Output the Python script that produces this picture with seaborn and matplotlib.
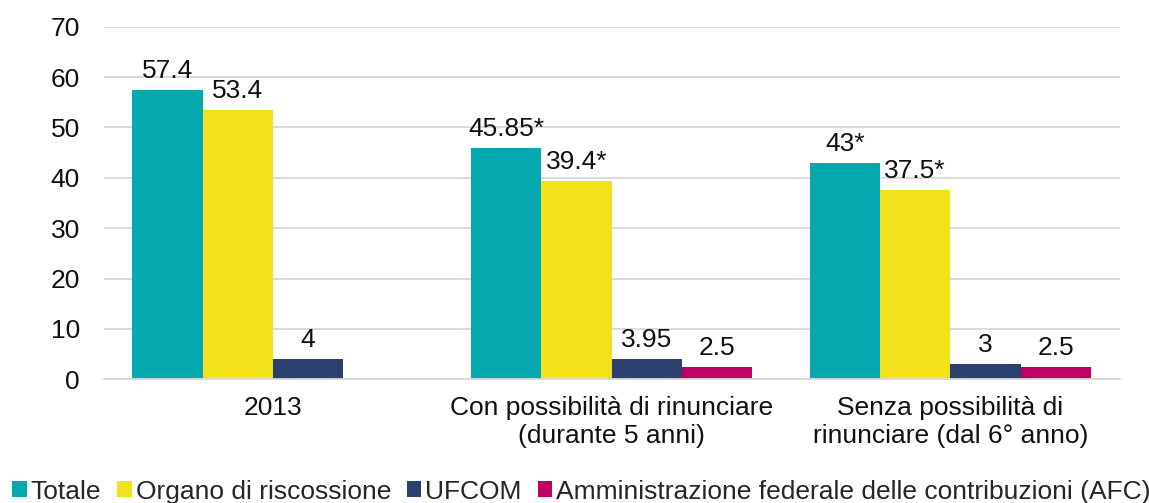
import numpy as np
import pandas as pd
import seaborn as sns
import matplotlib.pyplot as plt
from matplotlib.patches import Patch

categories = [
    "2013",
    "Con possibilità di rinunciare\n(durante 5 anni)",
    "Senza possibilità di\nrinunciare (dal 6° anno)",
]
series = [
    "Totale",
    "Organo di riscossione",
    "UFCOM",
    "Amministrazione federale delle contribuzioni (AFC)",
]
totale = [57.4, 45.85, 43.0]
organo = [53.4, 39.4, 37.5]
ufcom = [4.0, 3.95, 3.0]
afc = [np.nan, 2.5, 2.5]
labels = [
    ["57.4", "45.85*", "43*"],
    ["53.4", "39.4*", "37.5*"],
    ["4", "3.95", "3"],
    ["", "2.5", "2.5"],
]
colors = ["#06A8B0", "#F2E21A", "#2B406E", "#BE0064"]

rows = []
for name, vals in zip(series, [totale, organo, ufcom, afc]):
    for cat, v in zip(categories, vals):
        rows.append({"Categoria": cat, "Serie": name, "Valore": v})
df = pd.DataFrame(rows)

sns.set_style("white")
plt.rcParams["font.family"] = ["Liberation Sans", "DejaVu Sans"]

fig = plt.figure(figsize=(11.49, 5.03), dpi=100)
ax = fig.add_axes([0.0901, 0.2459, 0.8843, 0.701])

sns.barplot(
    data=df,
    x="Categoria",
    y="Valore",
    hue="Serie",
    order=categories,
    hue_order=series,
    palette=colors,
    width=0.83,
    saturation=1,
    linewidth=0,
    legend=False,
    ax=ax,
)

# etichette sopra le barre: si abbina ogni barra alla categoria piu vicina
for cont, labs in zip(ax.containers, labels):
    for bar in cont:
        if bar is None:
            continue
        xc = bar.get_x() + bar.get_width() / 2
        lab = labs[int(round(xc))]
        if not lab:
            continue
        ax.annotate(
            lab,
            (xc, bar.get_height()),
            xytext=(0, 5),
            textcoords="offset points",
            ha="center",
            va="bottom",
            fontsize=19,
            color="#111111",
        )

ax.set_ylim(0, 70)
ax.set_xlim(-0.5, 2.5)
ax.set_yticks(range(0, 71, 10))
ax.yaxis.grid(True, color="#D9D9D9", linewidth=1.3)
ax.set_axisbelow(True)
ax.set_xlabel("")
ax.set_ylabel("")

for s in ["left", "right", "top"]:
    ax.spines[s].set_visible(False)
ax.spines["bottom"].set_color("#D9D9D9")
ax.spines["bottom"].set_linewidth(1.3)

ax.set_xticks(range(3))
ax.set_xticklabels(categories)
ax.set_xticks([-0.5, 0.5, 1.5, 2.5], minor=True)
ax.tick_params(axis="x", which="major", length=0, labelsize=19, pad=12, colors="#111111")
ax.tick_params(axis="x", which="minor", length=8, width=1.3, color="#D9D9D9")
ax.tick_params(axis="y", length=0, labelsize=19, pad=17, colors="#111111")

handles = [Patch(facecolor=c, edgecolor="none") for c in colors]
fig.legend(
    handles,
    series,
    loc="lower left",
    bbox_to_anchor=(-0.003, -0.033),
    ncol=4,
    frameon=False,
    fontsize=19,
    handlelength=0.55,
    handleheight=0.55,
    handletextpad=0.15,
    columnspacing=0.6,
    borderaxespad=0.2,
)

fig.savefig("out.png", dpi=100)
